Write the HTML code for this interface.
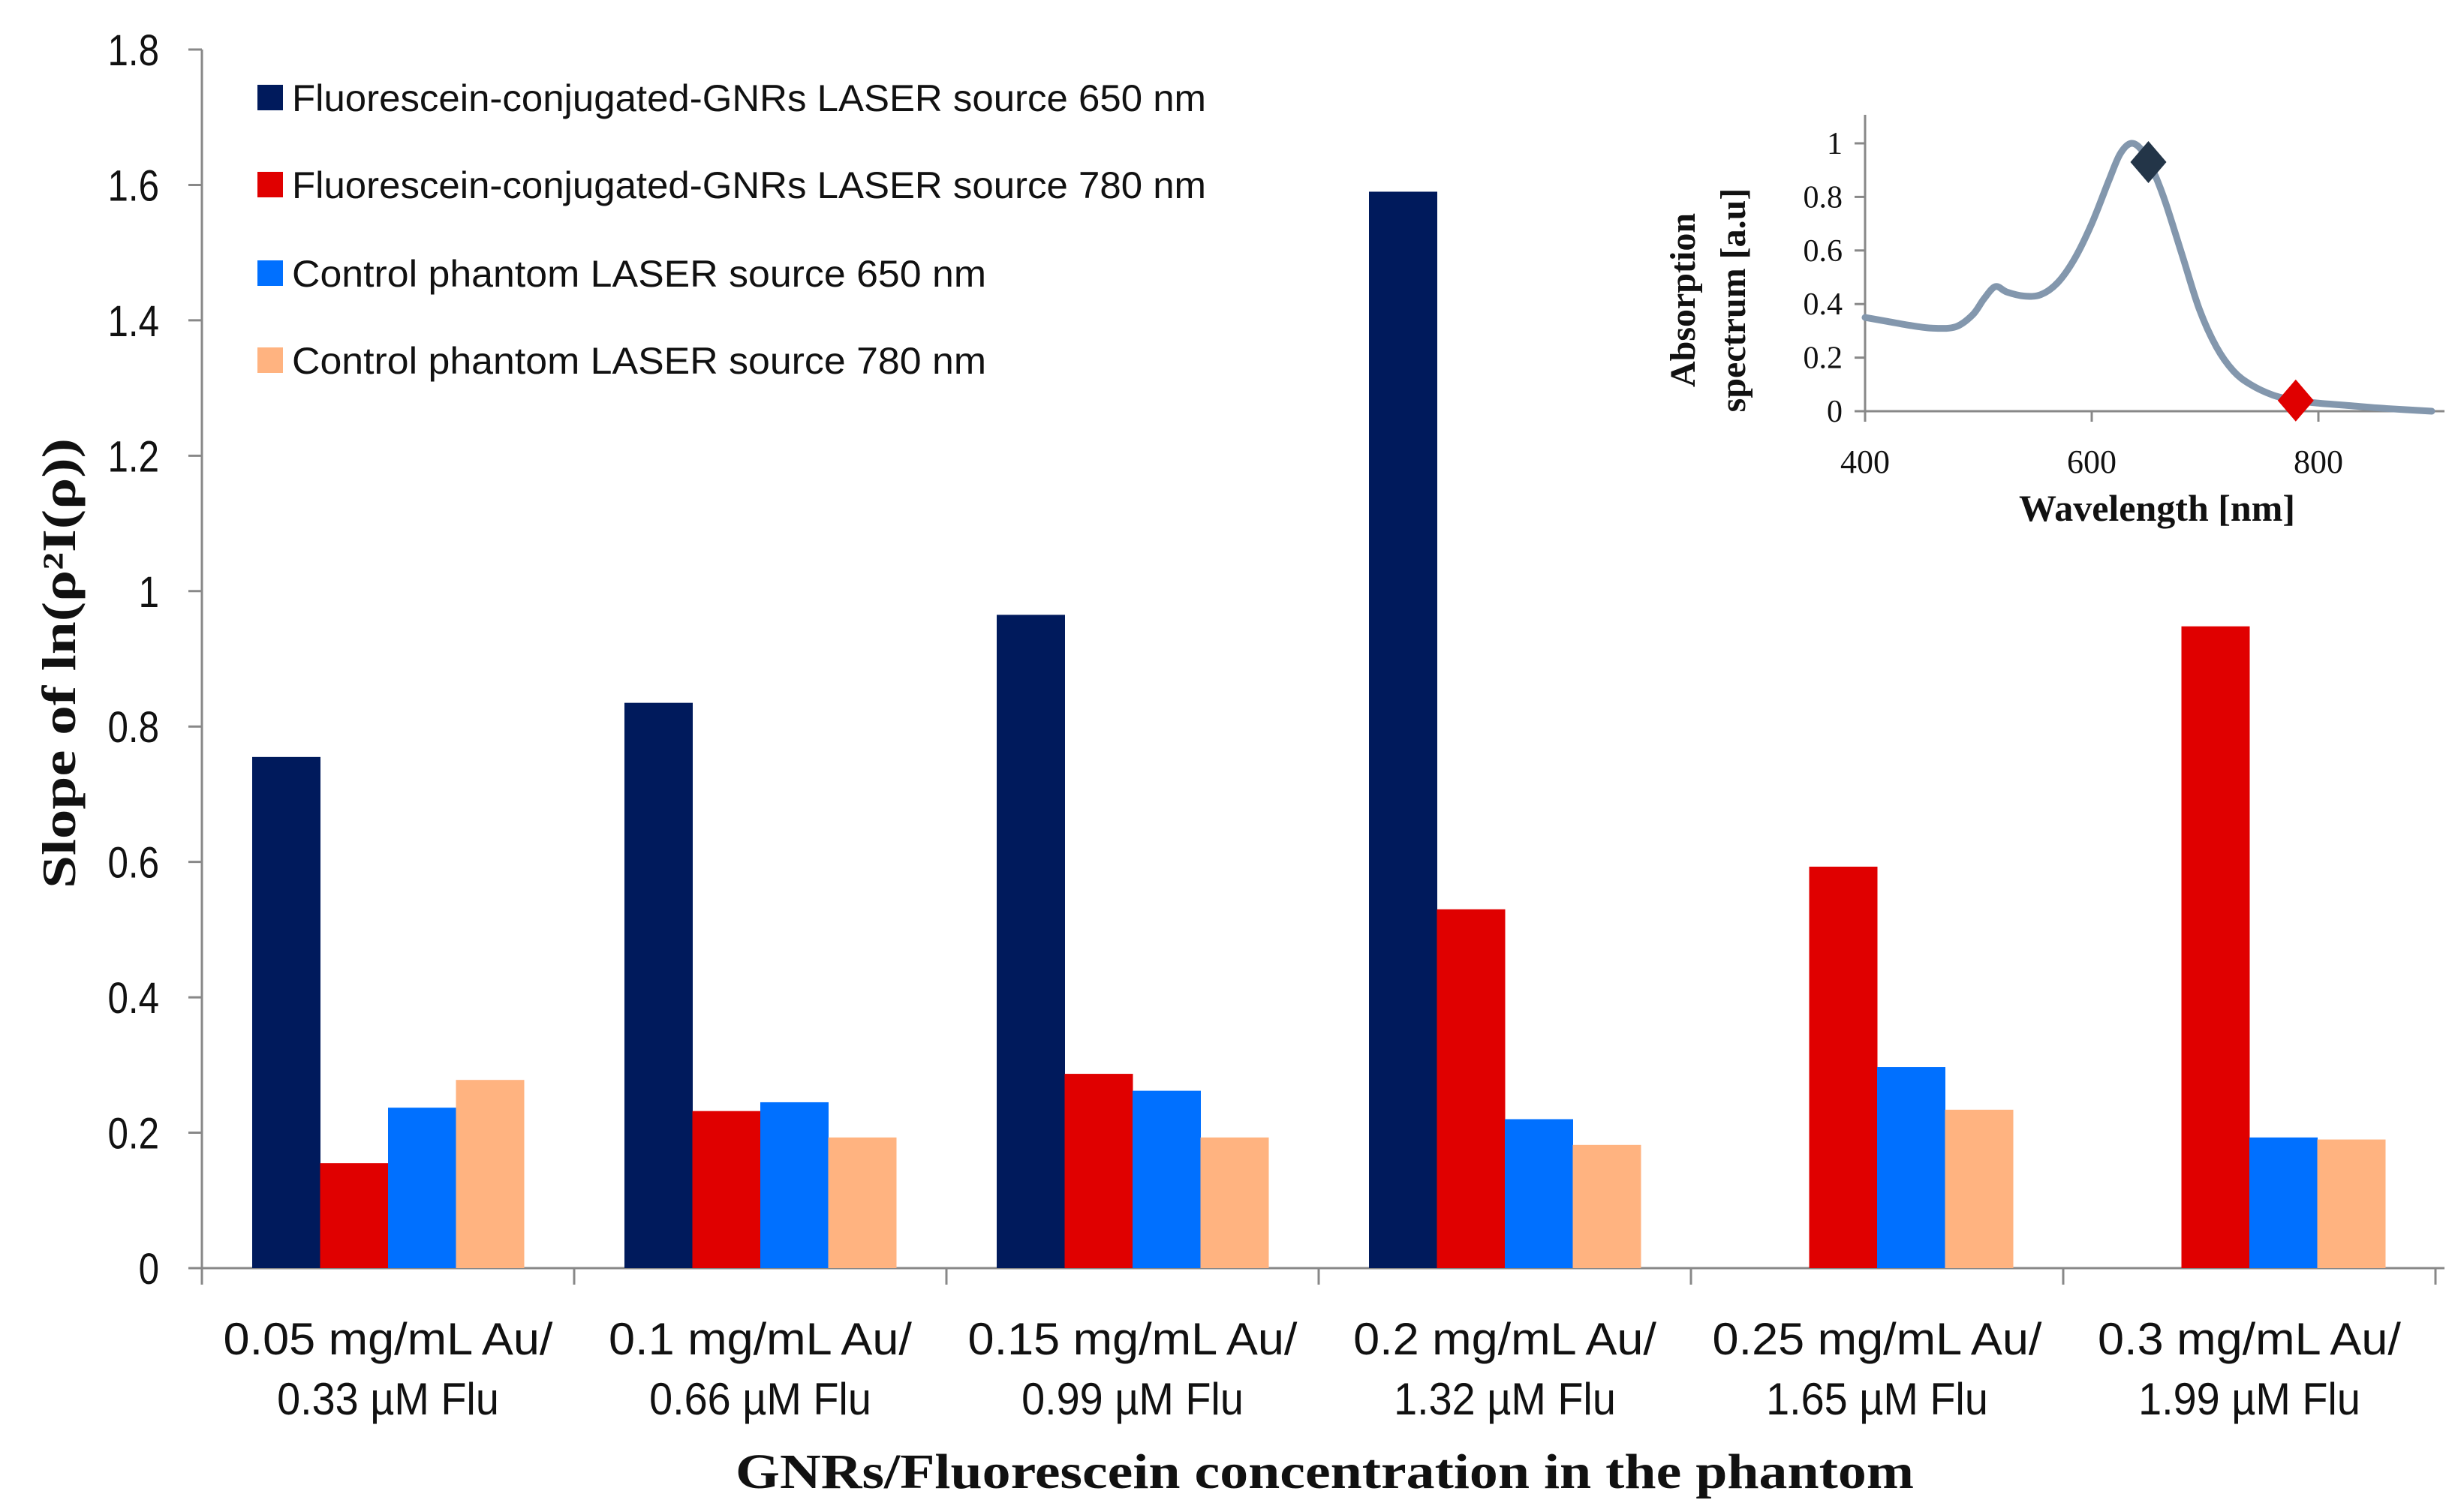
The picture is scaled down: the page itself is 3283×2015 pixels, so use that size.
<!DOCTYPE html>
<html><head><meta charset="utf-8"><style>
html,body{margin:0;padding:0;background:#fff;}
svg{display:block;}
</style></head><body>
<svg id="chart" width="3283" height="2015" viewBox="0 0 3283 2015" xmlns="http://www.w3.org/2000/svg">
<g id="main"></g>
<g id="inset"></g>
</svg>
<script>
const categories1 = ["0.05 mg/mL Au/", "0.1 mg/mL Au/", "0.15 mg/mL Au/", "0.2 mg/mL Au/", "0.25 mg/mL Au/", "0.3 mg/mL Au/"];
const categories2 = ["0.33 µM Flu", "0.66 µM Flu", "0.99 µM Flu", "1.32 µM Flu", "1.65 µM Flu", "1.99 µM Flu"];
const seriesNames = ["Fluorescein-conjugated-GNRs LASER source 650 nm", "Fluorescein-conjugated-GNRs LASER source 780 nm", "Control phantom LASER source 650 nm", "Control phantom LASER source 780 nm"];
const gnr650 = [0.755, 0.835, 0.965, 1.59, 0, 0];
const gnr780 = [0.155, 0.232, 0.287, 0.53, 0.593, 0.948];
const ctrl650 = [0.237, 0.245, 0.262, 0.22, 0.297, 0.193];
const ctrl780 = [0.278, 0.193, 0.193, 0.182, 0.234, 0.19];
const yTicks = [0, 0.2, 0.4, 0.6, 0.8, 1, 1.2, 1.4, 1.6, 1.8];
const insetWl = [400, 420, 440, 460, 480, 495, 505, 515, 525, 540, 555, 570, 585, 600, 615, 625, 635, 645, 655, 665, 680, 695, 710, 725, 740, 760, 780, 800, 830, 860, 900];
const insetAbs = [0.35, 0.335, 0.32, 0.31, 0.315, 0.36, 0.42, 0.465, 0.445, 0.43, 0.435, 0.48, 0.57, 0.7, 0.86, 0.96, 1.0, 0.97, 0.89, 0.78, 0.58, 0.38, 0.24, 0.15, 0.1, 0.06, 0.04, 0.03, 0.02, 0.01, 0.0];
const insetXTicks = [400, 600, 800];
const insetYTicks = [0, 0.2, 0.4, 0.6, 0.8, 1];
const markerWl = [650, 780];
const markerAbs = [0.93, 0.04];

const NS = "http://www.w3.org/2000/svg";
function mk(parent, tag, attrs, text) {
  const e = document.createElementNS(NS, tag);
  for (const k in attrs) e.setAttribute(k, attrs[k]);
  if (text !== undefined) e.textContent = text;
  parent.appendChild(e);
  return e;
}
function condense(t, f) {
  const w = t.getComputedTextLength();
  t.setAttribute("textLength", w * f);
  t.setAttribute("lengthAdjust", "spacingAndGlyphs");
}
const colors = ["#001a5c", "#e00000", "#0070ff", "#ffb380"];
const series = [gnr650, gnr780, ctrl650, ctrl780];

const X0 = 269, X1 = 3245, Y0 = 1690, YTOP = 66;
const groupW = (X1 - X0) / categories1.length;
const yS = v => Y0 - v / 1.8 * (Y0 - YTOP);
const main = document.getElementById("main");
const SANS = '"Liberation Sans", sans-serif';
const SERIF = '"Liberation Serif", serif';

let e = mk(main, "line", {x1: X0, y1: YTOP, x2: X0, y2: Y0 + 20, stroke: "#888", "stroke-width": 3});


e = mk(main, "line", {x1: X0 - 18, y1: Y0, x2: X1 + 12, y2: Y0, stroke: "#888", "stroke-width": 3});



yTicks.forEach(t => {
  const y = yS(t);
  let l = mk(main, "line", {x1: X0 - 18, y1: y, x2: X0, y2: y, stroke: "#888", "stroke-width": 3});
  
  
  let tx = mk(main, "text", {x: 212, y: y + 21, "text-anchor": "end", "font-family": SANS, "font-size": 58, fill: "#111"}, String(t));
  
  
  condense(tx, 0.85);
});

for (let i = 0; i <= categories1.length; i++) {
  const x = X0 + i * groupW;
  let l = mk(main, "line", {x1: x, y1: Y0, x2: x, y2: Y0 + 22, stroke: "#888", "stroke-width": 3});
  
  
}

const barW = 90.5, pad = (groupW - 4 * barW) / 2;
categories1.forEach((c, i) => {
  const gx = X0 + i * groupW;
  series.forEach((s, j) => {
    const v = s[i];
    if (v <= 0) return;
    let r = mk(main, "rect", {x: gx + pad + j * barW, y: yS(v), width: barW + 0.5, height: Y0 - yS(v), fill: colors[j]});
    
    
  });
  const cx = gx + groupW / 2;
  let t1 = mk(main, "text", {x: cx, y: 1805, "text-anchor": "middle", "font-family": SANS, "font-size": 60, fill: "#111"}, c);
  
  
  condense(t1, 1.05);
  let t2 = mk(main, "text", {x: cx, y: 1885, "text-anchor": "middle", "font-family": SANS, "font-size": 60, fill: "#111"}, categories2[i]);
  
  
  condense(t2, 0.93);
});

const legY = [130, 246, 364, 480];
seriesNames.forEach((n, j) => {
  let sq = mk(main, "rect", {x: 343, y: legY[j] - 17, width: 34, height: 34, fill: colors[j]});
  
  
  const len = j < 2 ? 1218 : 925;
  let t = mk(main, "text", {x: 389, y: legY[j] + 18, "font-family": SANS, "font-size": 50, fill: "#111", textLength: len, lengthAdjust: "spacingAndGlyphs"}, n);
  
  
});

e = mk(main, "text", {x: 1765, y: 1983, "text-anchor": "middle", "font-family": SERIF, "font-weight": "bold", "font-size": 66, fill: "#111", textLength: 1570, lengthAdjust: "spacingAndGlyphs"}, "GNRs/Fluorescein concentration  in the phantom");


e = mk(main, "text", {x: 0, y: 0, "text-anchor": "middle", "font-family": SERIF, "font-weight": "bold", "font-size": 64, fill: "#111", textLength: 600, lengthAdjust: "spacingAndGlyphs", transform: "translate(100,884) rotate(-90)"}, "Slope of  ln(ρ²I(ρ))");



const inset = document.getElementById("inset");
const IX0 = 2485, IY0 = 548, IY1 = 191;
const ix = w => IX0 + (w - 400) / 200 * 302;
const iy = v => IY0 - v * (IY0 - IY1);
e = mk(inset, "line", {x1: IX0, y1: 153, x2: IX0, y2: IY0 + 14, stroke: "#888", "stroke-width": 3});


e = mk(inset, "line", {x1: IX0 - 14, y1: IY0, x2: 3257, y2: IY0, stroke: "#888", "stroke-width": 3});


insetYTicks.forEach(t => {
  let l = mk(inset, "line", {x1: IX0 - 14, y1: iy(t), x2: IX0, y2: iy(t), stroke: "#888", "stroke-width": 3});
  
  
  let tx = mk(inset, "text", {x: 2455, y: iy(t) + 14, "text-anchor": "end", "font-family": SERIF, "font-size": 42, fill: "#111"}, String(t));
  
  
});
insetXTicks.forEach(t => {
  let l = mk(inset, "line", {x1: ix(t), y1: IY0, x2: ix(t), y2: IY0 + 14, stroke: "#888", "stroke-width": 3});
  
  
  let tx = mk(inset, "text", {x: ix(t), y: 630, "text-anchor": "middle", "font-family": SERIF, "font-size": 44, fill: "#111"}, String(t));
  
  
});
let pts = insetWl.map((w, i) => [ix(w), iy(insetAbs[i])]);
let d = "M" + pts[0][0] + "," + pts[0][1];
for (let i = 1; i < pts.length; i++) {
  const p0 = pts[Math.max(0, i - 2)], p1 = pts[i - 1], p2 = pts[i], p3 = pts[Math.min(pts.length - 1, i + 1)];
  const c1 = [p1[0] + (p2[0] - p0[0]) / 6, p1[1] + (p2[1] - p0[1]) / 6];
  const c2 = [p2[0] - (p3[0] - p1[0]) / 6, p2[1] - (p3[1] - p1[1]) / 6];
  d += " C" + c1 + " " + c2 + " " + p2;
}
e = mk(inset, "path", {d: d, fill: "none", stroke: "#8397ad", "stroke-width": 9, "stroke-linejoin": "round", "stroke-linecap": "round"});


const mColors = ["#233548", "#e00000"];
markerWl.forEach((w, i) => {
  const x = ix(w), y = iy(markerAbs[i]);
  let m = mk(inset, "polygon", {points: `${x},${y - 28} ${x + 24},${y} ${x},${y + 28} ${x - 24},${y}`, fill: mColors[i]});
  
  
});
e = mk(inset, "text", {x: 2874, y: 694, "text-anchor": "middle", "font-family": SERIF, "font-weight": "bold", "font-size": 50, fill: "#111"}, "Wavelength [nm]");


e = mk(inset, "text", {x: 0, y: 0, "text-anchor": "middle", "font-family": SERIF, "font-weight": "bold", "font-size": 48, fill: "#111", transform: "translate(2258,400) rotate(-90)"}, "Absorption");


e = mk(inset, "text", {x: 0, y: 0, "text-anchor": "middle", "font-family": SERIF, "font-weight": "bold", "font-size": 48, fill: "#111", transform: "translate(2325,400) rotate(-90)"}, "spectrum [a.u]");


</script>
</body></html>
